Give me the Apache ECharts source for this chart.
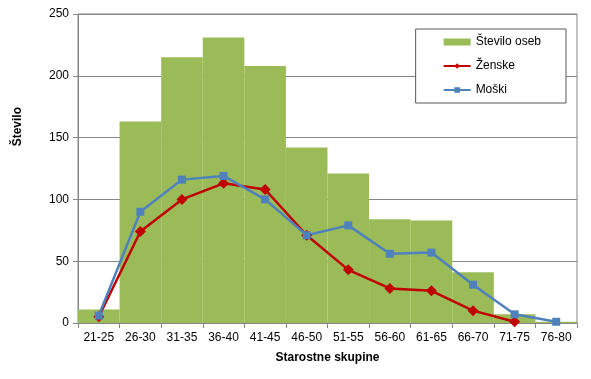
<!DOCTYPE html>
<html><head><meta charset="utf-8">
<script src="https://cdn.jsdelivr.net/npm/echarts@6/dist/echarts.min.js"></script>
<style>html,body{margin:0;padding:0;background:#fff}#c{width:591px;height:379px}</style>
</head><body><div id="c"></div>
<script>
const categories = ['21-25','26-30','31-35','36-40','41-45','46-50','51-55','56-60','61-65','66-70','71-75','76-80'];
const steviloOseb = [11,163,215,231,208,142,121,84,83,41,7,1];
const zenske = [5,74,100,113,108,71,43,28,26,10,1,null];
const moski = [6,90,116,119,100,71,79,56,57,31,7,1];
const yTicks = [0,50,100,150,200,250];

const chart = echarts.init(document.getElementById('c'), null, {renderer:'canvas'});
const font = 'Liberation Sans, Arial, sans-serif';
chart.setOption({
  animation:false,
  textStyle:{fontFamily:font},
  grid:{left:78,right:14,top:14,bottom:56,show:true,borderColor:'#868686',borderWidth:1,containLabel:false},
  legend:{
    right:25, top:29, orient:'vertical', itemGap:12,
    backgroundColor:'#fff', borderColor:'#595959', borderWidth:1,
    padding:[7,25,7,27], itemWidth:27, itemHeight:7,
    textStyle:{fontFamily:font,fontSize:12,color:'#000'},
    data:[{name:'Število oseb',icon:'rect'},{name:'Ženske'},{name:'Moški'}]
  },
  xAxis:{
    type:'category', data:categories, boundaryGap:true,
    axisLine:{lineStyle:{color:'#868686'}},
    axisTick:{show:true,length:5,inside:false,alignWithLabel:false,lineStyle:{color:'#868686'}},
    axisLabel:{color:'#000',fontSize:12,margin:9,fontFamily:font,interval:0},
    name:'Starostne skupine', nameLocation:'middle', nameGap:29,
    nameTextStyle:{fontWeight:'bold',fontSize:12,color:'#000',fontFamily:font}
  },
  yAxis:{
    type:'value', min:yTicks[0], max:yTicks[yTicks.length-1], interval:50,
    axisLine:{show:true,lineStyle:{color:'#868686'}},
    axisTick:{show:true,length:5,lineStyle:{color:'#868686'}},
    splitLine:{lineStyle:{color:'#868686'}},
    axisLabel:{color:'#000',fontSize:12,margin:9,fontFamily:font}
  },
  graphic:[{type:'text',left:12,top:107,rotation:Math.PI/2,
    style:{text:'Število',font:'bold 12px '+font,fill:'#000'}}],
  series:[
    {name:'Število oseb',type:'bar',data:steviloOseb,barCategoryGap:'0%',barGap:'-100%',
      itemStyle:{color:'#9BBB59'}},
    {name:'Ženske',type:'line',data:zenske,symbol:'diamond',symbolSize:11,
      lineStyle:{color:'#C00000',width:2.5},itemStyle:{color:'#C00000'}},
    {name:'Moški',type:'line',data:moski,symbol:'rect',symbolSize:8,
      lineStyle:{color:'#4F81BD',width:2.5},itemStyle:{color:'#4F81BD'}}
  ]
});
</script></body></html>
